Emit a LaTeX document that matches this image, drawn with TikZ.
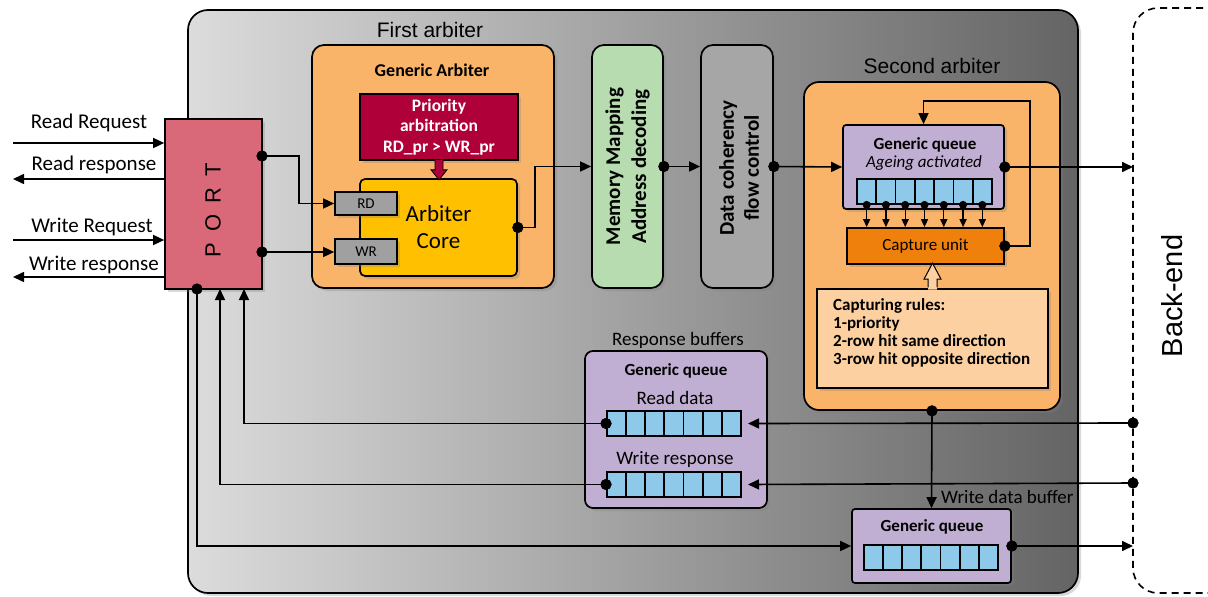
\documentclass[tikz,border=0pt]{standalone}
\usepackage{fontspec}
\setmainfont{Carlito}
\newfontfamily\arialf{Liberation Sans}
\usetikzlibrary{arrows.meta,shadows,calc}
\definecolor{panelL}{RGB}{220,220,220}
\definecolor{panelR}{RGB}{100,100,100}
\definecolor{portc}{RGB}{217,104,120}
\definecolor{arbc}{RGB}{250,180,105}
\definecolor{prioc}{RGB}{176,0,58}
\definecolor{corec}{RGB}{255,192,0}
\definecolor{rdwrc}{RGB}{160,160,160}
\definecolor{memc}{RGB}{183,220,176}
\definecolor{dcc}{RGB}{166,166,166}
\definecolor{queuec}{RGB}{192,175,210}
\definecolor{cellc}{RGB}{142,201,233}
\definecolor{capc}{RGB}{240,128,12}
\definecolor{rulec}{RGB}{252,208,160}
\newcommand{\fsz}[2]{\fontsize{#1pt}{#2pt}\selectfont}
\tikzset{
  box/.style={draw=black, line width=1.7pt, inner sep=0pt,
    drop shadow={shadow xshift=3pt, shadow yshift=-3pt, opacity=.3}},
  arr/.style={line width=1.6pt, -{Triangle[length=11pt,width=10pt]}},
  sarr/.style={line width=1.4pt, -{Triangle[length=8pt,width=7pt]}},
  dot/.style={circle, fill=black, inner sep=0pt, minimum size=11pt},
  sdot/.style={circle, fill=black, inner sep=0pt, minimum size=8pt},
  cell/.style={draw=black, line width=1.8pt, fill=cellc, minimum width=19.29pt,
    minimum height=25pt, inner sep=0pt},
  lbl/.style={inner sep=0pt, align=center},
}
\begin{document}
\begin{tikzpicture}[x=1pt,y=-1pt]
\useasboundingbox (0,0) rectangle (1208,597);
% main panel
\node[box, left color=panelL, right color=panelR, rounded corners=20pt,
  minimum width=890pt, minimum height=583pt] (panel) at (633,301.5) {};
\node[lbl, font=\arialf\fsz{21}{24}] (t1) at (430,30) {First arbiter};
% back-end
\draw[line width=1.6pt, dash pattern=on 7pt off 5pt, rounded corners=25pt]
  (1215,8) -- (1133,8) -- (1133,593) -- (1215,593);
\node[lbl, rotate=90, font=\arialf\fsz{29}{29}] (betxt) at (1172,296) {Back-end};
\coordinate (be0) at (1133,167);
\coordinate (be3) at (1133,546);
% port
\node[box, fill=portc, minimum width=97pt, minimum height=170pt] (port) at (213.5,204) {};
\node[lbl, rotate=90, font=\arialf\fsz{22}{22}] (portT) at (213,210) {P\hspace{11pt}O\hspace{11pt}R\hspace{11pt}T};
% external signals
\node[lbl, font=\fsz{21}{24}] (l1) at (89,123) {Read Request};
\node[lbl, font=\fsz{21}{24}] (l2) at (94,165) {Read response};
\node[lbl, font=\fsz{21}{24}] (l3) at (92,227) {Write Request};
\node[lbl, font=\fsz{21}{24}] (l4) at (94,265) {Write response};
\coordinate (e1) at (13,143);
\coordinate (e2) at (13,179);
\coordinate (e3) at (13,240);
\coordinate (e4) at (13,277);
\draw[arr] (e1) -- (e1 -| port.west);
\draw[arr] (e2 -| port.west) -- (e2);
\draw[arr] (e3) -- (e3 -| port.west);
\draw[arr] (e4 -| port.west) -- (e4);
% generic arbiter
\node[box, fill=arbc, rounded corners=12pt, minimum width=242pt, minimum height=243pt] (garb) at (433,166.5) {};
\node[lbl, font=\bfseries\fsz{18}{20}] (garbT) at (432,70) {Generic Arbiter};
\node[box, fill=prioc, minimum width=158pt, minimum height=66pt, text=white,
  font=\bfseries\fsz{17.5}{20.5}, align=center] (prio) at (439,127) {Priority\\arbitration\\RD\_pr > WR\_pr};
\node[box, fill=corec, rounded corners=5pt, minimum width=157pt, minimum height=97pt,
  font=\fsz{23}{27}, align=center] (core) at (438.5,227.5) {Arbiter\\Core};
\node[box, fill=rdwrc, minimum width=62pt, minimum height=23pt, font=\fsz{15}{15}] (rd) at (366,203.5) {RD};
\node[box, fill=rdwrc, minimum width=62pt, minimum height=25pt, font=\fsz{15}{15}] (wr) at (366,251.5) {WR};
\fill[prioc, draw=black, line width=0.8pt] ($(prio.south)+(-4,-1)$) -- ($(prio.south)+(-4,9)$) -- ($(prio.south)+(-8,9)$)
  -- ($(prio.south)+(0,19)$) -- ($(prio.south)+(8,9)$) -- ($(prio.south)+(4,9)$) -- ($(prio.south)+(4,-1)$);
% memory mapping / data coherency
\node[box, fill=memc, rounded corners=12pt, minimum width=71pt, minimum height=243pt] (mem) at (627.5,166.5) {};
\node[lbl, rotate=90, font=\bfseries\fsz{21}{26}] (memT) at (mem.center) {Memory Mapping\\Address decoding};
\node[box, fill=dcc, rounded corners=12pt, minimum width=72pt, minimum height=243pt] (dc) at (737,166.5) {};
\node[lbl, rotate=90, font=\bfseries\fsz{21}{25}] (dcT) at (739,168) {Data coherency\\flow control};
% second arbiter
\node[box, fill=arbc, rounded corners=15pt, minimum width=256pt, minimum height=328pt] (sa) at (932,246) {};
\node[lbl, font=\arialf\fsz{21}{24}] (t2) at (932,66) {Second arbiter};
\node[box, fill=queuec, rounded corners=3pt, minimum width=161pt, minimum height=84pt] (gq1) at (923.5,167) {};
\node[lbl, font=\bfseries\fsz{17}{19}] (gq1T) at (925,145) {Generic queue};
\node[lbl, font=\itshape\fsz{17}{19}] (gq1A) at (924,163) {Ageing activated};
\foreach \i in {1,...,7} {\node[cell] (qa\i) at ({857+(\i-0.5)*19.286},191.5) {};}
\node[box, fill=capc, minimum width=157pt, minimum height=36pt, font=\fsz{17}{19}] (cap) at (925.5,246) {Capture unit};
\node[box, fill=rulec, minimum width=231pt, minimum height=99pt] (rules) at (932.5,338.5) {};
\node[anchor=north west, align=left, inner sep=0pt, font=\bfseries\fsz{17}{18}] (rulesT) at (833,298) {Capturing rules:\\1-priority\\2-row hit same direction\\3-row hit opposite direction};
\fill[rulec] ($(rules.north)+(-4.5,1.5)$) -- ($(rules.north)+(-4.5,-9)$) -- ($(rules.north)+(-8.5,-9)$)
  -- ($(rules.north)+(0,-25)$) -- ($(rules.north)+(8.5,-9)$) -- ($(rules.north)+(4.5,-9)$) -- ($(rules.north)+(4.5,1.5)$) -- cycle;
\draw[line width=1pt] ($(rules.north)+(-4.5,-0.8)$) -- ($(rules.north)+(-4.5,-9)$) -- ($(rules.north)+(-8.5,-9)$)
  -- ($(rules.north)+(0,-25)$) -- ($(rules.north)+(8.5,-9)$) -- ($(rules.north)+(4.5,-9)$) -- ($(rules.north)+(4.5,-0.8)$);
% response buffers
\node[box, fill=queuec, rounded corners=8pt, minimum width=182pt, minimum height=157pt] (rb) at (676,429.5) {};
\node[lbl, font=\fsz{19}{21}] (rbT) at (678,340) {Response buffers};
\node[lbl, font=\bfseries\fsz{17}{19}] (rbG) at (676,371) {Generic queue};
\node[lbl, font=\fsz{19}{21}] (rbR) at (675,398) {Read data};
\node[lbl, font=\fsz{19}{21}] (rbW) at (675,459) {Write response};
\foreach \i in {1,...,7} {\node[cell] (ra\i) at ({607+(\i-0.5)*19.14},423.5) {};}
\foreach \i in {1,...,7} {\node[cell] (wa\i) at ({607+(\i-0.5)*19.14},484.5) {};}
% write data buffer
\node[box, fill=queuec, rounded corners=3pt, minimum width=159pt, minimum height=74pt] (wdb) at (931.5,546) {};
\node[lbl, font=\bfseries\fsz{17}{19}] (wdbG) at (932,527) {Generic queue};
\foreach \i in {1,...,7} {\node[cell] (da\i) at ({864+(\i-0.5)*19.14},557.5) {};}
\node[anchor=west, inner sep=0pt, font=\fsz{19}{21}] (wdbT) at (941,497) {Write data buffer};
% dots
\node[dot] (dP1) at (262,156) {};
\node[dot] (dP2) at (262,252) {};
\node[dot] (dPB) at (197,289) {};
\node[dot] (dC) at (core.east) {};
\node[dot] (dM) at (mem.east) {};
\node[dot] (dD) at (dc.east) {};
\node[dot] (dG) at (gq1.east) {};
\node[dot] (dK) at (cap.east) {};
\node[dot] (dS) at (sa.south) {};
\node[dot] (dR) at (ra1.west) {};
\node[dot] (dW) at (wa1.west) {};
\node[dot] (dB) at (wdb.east) {};
\node[dot] (be1) at (1133,423) {};
\node[dot] (be2) at (1133,483) {};
\coordinate (rIn) at (748,423.5);
\coordinate (wIn) at (748,484.5);
\coordinate (pIn1) at (244,289);
\coordinate (pIn2) at (220,289);
% connectors
\draw[arr] (dP1.center) -| ([xshift=-35pt]rd.west) -- (rd.west);
\draw[arr] (dP2.center) -- (dP2.center -| wr.west);
\draw[arr] (dC.center) -- ++(17,0) |- (mem.west);
\draw[arr] (dM.center) -- (dc.west);
\draw[arr] (dD.center) -- (gq1.west);
\draw[arr] (dG.center) -- (be0);
\foreach \i in {1,...,7} {
  \node[sdot] (qd\i) at (qa\i.south) {};
  \draw[sarr] (qd\i.center) -- (qd\i.center |- cap.north);
}
\draw[arr] (dK.center) -- ++(25,0) |- ([yshift=23pt]gq1.north) -- (gq1.north);
\draw[arr] (dS.center) -- (wdb.north);
\draw[arr] (be1.center) -- (rIn);
\draw[arr] (be2.center) -- (wIn);
\draw[arr] (dR.center) -| (pIn1);
\draw[arr] (dW.center) -| (pIn2);
\draw[arr] (dPB.center) |- (wdb.west);
\draw[arr] (dB.center) -- (be3);
% redraw dots on top
\foreach \n in {dP1,dP2,dPB,dC,dM,dD,dG,dK,dS,dR,dW,dB,be1,be2} {\fill (\n.center) circle (5.5pt);}
\end{tikzpicture}
\end{document}
